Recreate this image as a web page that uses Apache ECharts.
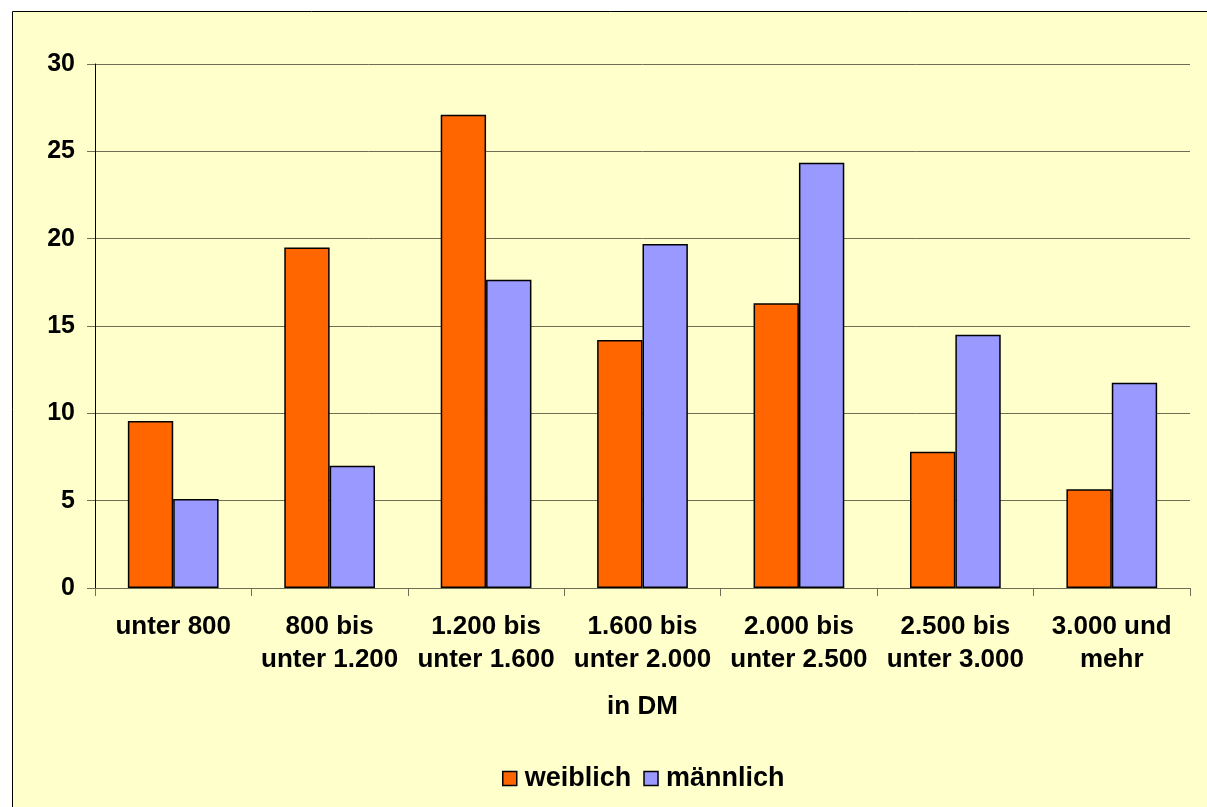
<!DOCTYPE html>
<html><head><meta charset="utf-8">
<script src="https://cdn.jsdelivr.net/npm/echarts@6/dist/echarts.min.js"></script>
<style>html,body{margin:0;padding:0;background:#fff}#c{width:1207px;height:807px}</style>
</head><body><div id="c"></div>
<script>
const categories = ['unter 800','800 bis\nunter 1.200','1.200 bis\nunter 1.600','1.600 bis\nunter 2.000','2.000 bis\nunter 2.500','2.500 bis\nunter 3.000','3.000 und\nmehr'];
const weiblich = [9.56, 19.5, 27.1, 14.2, 16.3, 7.8, 5.65];
const maennlich = [5.1, 7.0, 17.65, 19.7, 24.35, 14.5, 11.75];
const yTicks = {min: 0, max: 30, interval: 5};

const chart = echarts.init(document.getElementById('c'));
const font = 'Liberation Sans, Arial, sans-serif';
chart.setOption({
  backgroundColor: '#ffffff',
  graphic: [{type:'rect', shape:{x:12.5,y:11.5,width:1210,height:810}, style:{fill:'#FFFFCC', stroke:'#000', lineWidth:1}, z:-10}],
  grid: {left: 95, right: 17, top: 64, bottom: 219},
  legend: {
    data: ['weiblich','männlich'], left: 497, top: 760, itemWidth: 14, itemHeight: 14, itemGap: 12,
    icon: 'rect',
    textStyle: {fontFamily: font, fontWeight: 'bold', fontSize: 27, color: '#000', padding: [0, 0, 0, 3]},
    itemStyle: {borderColor: '#000', borderWidth: 1.5}
  },
  xAxis: {
    type: 'category', data: categories,
    name: 'in DM', nameLocation: 'middle', nameGap: 106,
    nameTextStyle: {fontFamily: font, fontWeight: 'bold', fontSize: 26, color: '#000'},
    axisLine: {lineStyle: {color: '#6e6e55', width: 1}},
    axisTick: {show: true, interval: 0, length: 8, lineStyle: {color: '#6e6e55'}},
    axisLabel: {interval: 0, fontFamily: font, fontWeight: 'bold', fontSize: 26, color: '#000', lineHeight: 33, margin: 22}
  },
  yAxis: {
    type: 'value', min: yTicks.min, max: yTicks.max, interval: yTicks.interval,
    axisLine: {show: true, lineStyle: {color: '#000', width: 1}},
    axisTick: {show: true, length: 8, lineStyle: {color: '#6e6e55'}},
    axisLabel: {fontFamily: font, fontWeight: 'bold', fontSize: 25, color: '#000', margin: 20},
    splitLine: {lineStyle: {color: '#6e6e55', width: 1}}
  },
  series: [
    {name: 'weiblich', type: 'bar', data: weiblich, barGap: '0%', barCategoryGap: '42%',
     itemStyle: {color: '#FF6600', borderColor: '#000', borderWidth: 1.5}},
    {name: 'männlich', type: 'bar', data: maennlich,
     itemStyle: {color: '#9999FF', borderColor: '#000', borderWidth: 1.5}}
  ]
});
</script></body></html>
